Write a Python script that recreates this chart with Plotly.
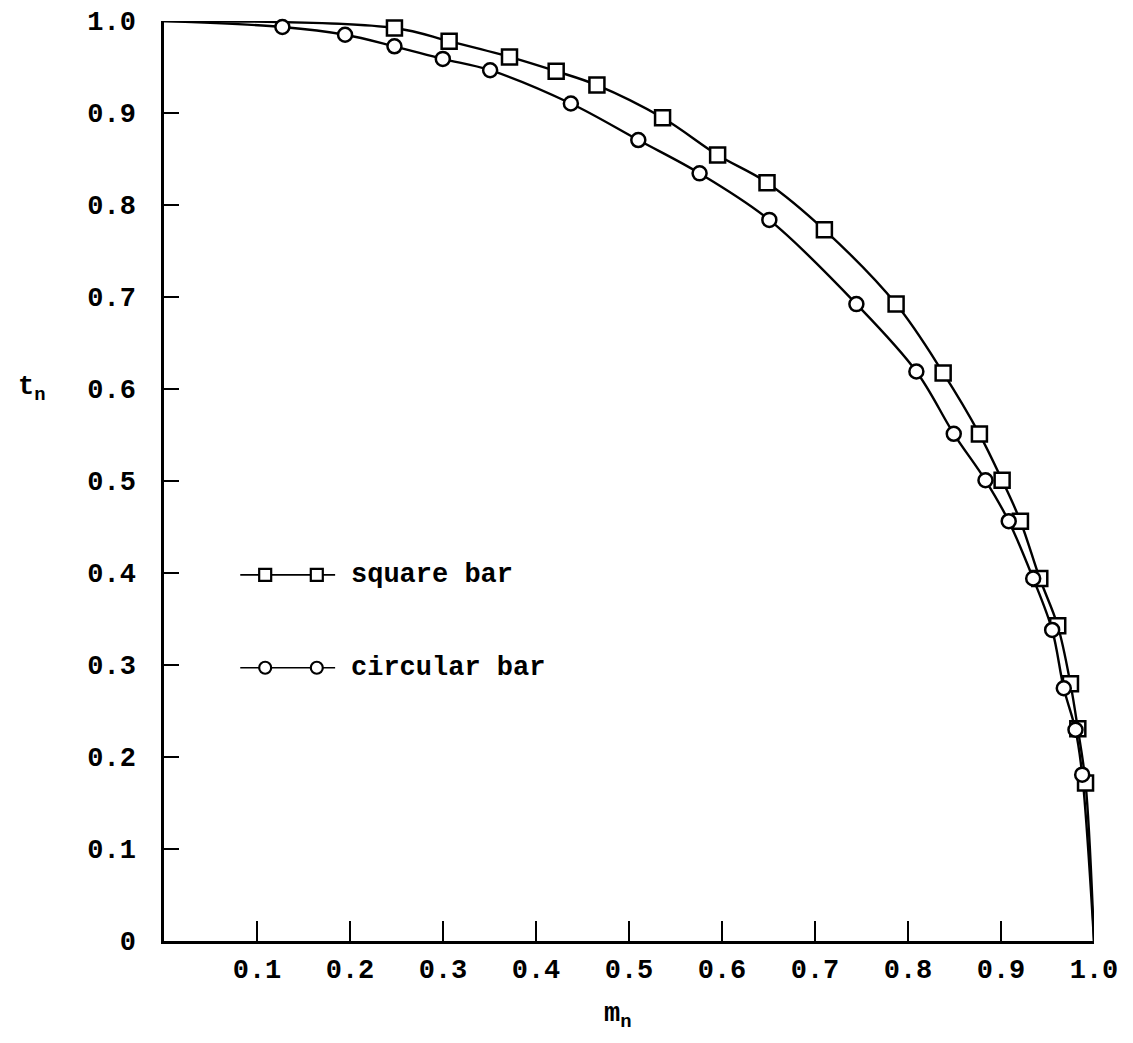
import plotly.graph_objects as go

# ---- data ----
circ_m = [0.1273, 0.1947, 0.2478, 0.2998, 0.3507, 0.4375, 0.5100, 0.5759, 0.6509,
          0.7445, 0.8090, 0.8492, 0.8833, 0.9083, 0.9346, 0.9550, 0.9675, 0.9801, 0.9873]
circ_t = [0.9935, 0.9851, 0.9725, 0.9588, 0.9465, 0.9103, 0.8706, 0.8344, 0.7838,
          0.6923, 0.6190, 0.5513, 0.5008, 0.4563, 0.3940, 0.3381, 0.2747, 0.2296, 0.1808]

sq_m = [0.2478, 0.3066, 0.3715, 0.4217, 0.4655, 0.5361, 0.5953, 0.6484, 0.7101,
        0.7872, 0.8378, 0.8768, 0.9012, 0.9209, 0.9417, 0.9610, 0.9747, 0.9826, 0.9909]
sq_t = [0.9924, 0.9780, 0.9610, 0.9454, 0.9303, 0.8948, 0.8543, 0.8243, 0.7730,
        0.6923, 0.6175, 0.5510, 0.5008, 0.4563, 0.3940, 0.3427, 0.2795, 0.2307, 0.1717]

# both curves start at (0, 1) and end at (1, 0)
curve_start_m, curve_start_t = 0.0, 1.0
curve_end_m, curve_end_t = 1.0, 0.0

x_tick_vals = [0.1, 0.2, 0.3, 0.4, 0.5, 0.6, 0.7, 0.8, 0.9, 1.0]
x_tick_text = ["0.1", "0.2", "0.3", "0.4", "0.5", "0.6", "0.7", "0.8", "0.9", "1.0"]
y_tick_vals = [0, 0.1, 0.2, 0.3, 0.4, 0.5, 0.6, 0.7, 0.8, 0.9, 1.0]
y_tick_text = ["0", "0.1", "0.2", "0.3", "0.4", "0.5", "0.6", "0.7", "0.8", "0.9", "1.0"]

series_names = ["square bar", "circular bar"]

FONT = "Liberation Mono"
FS = 27
INK = "black"
LW = 2.4

def bold(s):
    return "<b>" + s + "</b>"

fig = go.Figure()

# curves
fig.add_trace(go.Scatter(
    x=[curve_start_m] + sq_m + [curve_end_m],
    y=[curve_start_t] + sq_t + [curve_end_t],
    mode="lines", line=dict(color=INK, width=LW, shape="spline", smoothing=1.0),
    cliponaxis=False, showlegend=False, hoverinfo="skip"))
fig.add_trace(go.Scatter(
    x=[curve_start_m] + circ_m + [curve_end_m],
    y=[curve_start_t] + circ_t + [curve_end_t],
    mode="lines", line=dict(color=INK, width=LW, shape="spline", smoothing=1.0),
    cliponaxis=False, showlegend=False, hoverinfo="skip"))

# markers
fig.add_trace(go.Scatter(
    x=sq_m, y=sq_t, mode="markers", name=series_names[0],
    marker=dict(symbol="square", size=15, color="white", line=dict(color=INK, width=2.5)),
    cliponaxis=False, showlegend=False))
fig.add_trace(go.Scatter(
    x=circ_m, y=circ_t, mode="markers", name=series_names[1],
    marker=dict(symbol="circle", size=14, color="white", line=dict(color=INK, width=2.5)),
    cliponaxis=False, showlegend=False))

# hand-drawn style legend (inside plot)
shapes = []
annotations = []
leg_rows = [(0.398, "square"), (0.297, "circle")]
for (ly, kind), name in zip(leg_rows, series_names):
    shapes.append(dict(type="line", xref="x", yref="y", x0=0.082, x1=0.184, y0=ly, y1=ly,
                       line=dict(color=INK, width=1.6), layer="above"))
    for lx in (0.1088, 0.1643):
        shapes.append(dict(type="rect" if kind == "square" else "circle",
                           xref="x", yref="y", xsizemode="pixel", ysizemode="pixel",
                           xanchor=lx, yanchor=ly, x0=-6, x1=6, y0=-6, y1=6,
                           fillcolor="white", line=dict(color=INK, width=2.2), layer="above"))
    annotations.append(dict(x=0.199, y=ly, xref="x", yref="y", text=bold(name), showarrow=False,
                            xanchor="left", yanchor="middle",
                            font=dict(family=FONT, size=FS, color=INK)))

# axis titles
annotations.append(dict(x=-0.142, y=0.60, xref="paper", yref="paper",
                        text="<b>t<sub>n</sub></b>",
                        showarrow=False, xanchor="center", yanchor="middle",
                        font=dict(family=FONT, size=FS, color=INK)))
annotations.append(dict(x=0.488, y=-0.082, xref="paper", yref="paper",
                        text="<b>m<sub>n</sub></b>",
                        showarrow=False, xanchor="center", yanchor="middle",
                        font=dict(family=FONT, size=FS, color=INK)))

fig.update_layout(
    width=1133, height=1043,
    margin=dict(l=156, r=47, t=13, b=110),
    paper_bgcolor="white", plot_bgcolor="white",
    shapes=shapes, annotations=annotations,
    showlegend=False,
    font=dict(family=FONT, size=FS, color=INK),
)
fig.update_xaxes(
    range=[0, 1], showgrid=False, zeroline=False, automargin=False,
    showline=True, linecolor=INK, linewidth=2.5, mirror=False,
    tickmode="array", tickvals=x_tick_vals, ticktext=[bold(t) for t in x_tick_text],
    ticks="inside", ticklen=20, tickwidth=2, tickcolor=INK, ticklabeloverflow="allow",
    tickfont=dict(family=FONT, size=FS, color=INK), ticklabelstandoff=2,
)
fig.update_yaxes(
    range=[0, 1], showgrid=False, zeroline=False, automargin=False,
    showline=True, linecolor=INK, linewidth=2.5, mirror=False,
    tickmode="array", tickvals=y_tick_vals, ticktext=[bold(t) for t in y_tick_text],
    ticks="inside", ticklen=15, tickwidth=2, tickcolor=INK, ticklabeloverflow="allow",
    tickfont=dict(family=FONT, size=FS, color=INK), ticklabelstandoff=20,
)

fig.write_html("out.html")
